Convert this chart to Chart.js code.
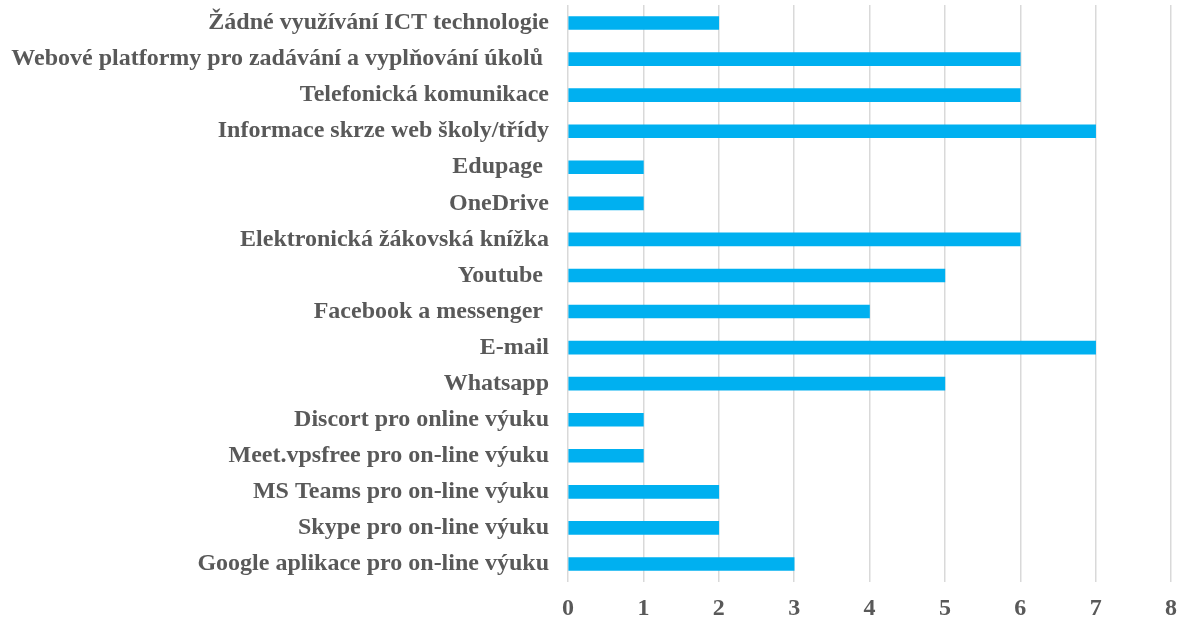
<!DOCTYPE html>
<html lang="cs">
<head>
<meta charset="UTF-8">
<title>ICT</title>
<style>
  html, body { margin: 0; padding: 0; background: #ffffff; }
  #wrap { width: 1182px; height: 620px; position: relative; }
</style>
<script src="https://cdn.jsdelivr.net/npm/chart.js"></script>
</head>
<body>
<div id="wrap"><canvas id="ictChart"></canvas></div>
<script>
// categories, top to bottom as in the picture
const categories = [
  'Žádné využívání ICT technologie',
  'Webové platformy pro zadávání a vyplňování úkolů ',
  'Telefonická komunikace',
  'Informace skrze web školy/třídy',
  'Edupage ',
  'OneDrive',
  'Elektronická žákovská knížka',
  'Youtube ',
  'Facebook a messenger ',
  'E-mail',
  'Whatsapp',
  'Discort pro online výuku',
  'Meet.vpsfree pro on-line výuku',
  'MS Teams pro on-line výuku',
  'Skype pro on-line výuku',
  'Google aplikace pro on-line výuku'
];
const counts = [2, 6, 6, 7, 1, 1, 6, 5, 4, 7, 5, 1, 1, 2, 2, 3];
const xMin = 0;
const xMax = 8;

const textGrey = '#595959';
const fontFam = '"Liberation Serif", "Times New Roman", serif';

new Chart(document.getElementById('ictChart'), {
    type: 'bar',
    data: {
        labels: categories,
        datasets: [{
            data: counts,
            backgroundColor: '#00B0F0',
            borderWidth: 0,
            barThickness: 13
        }]
    },
    options: {
        indexAxis: 'y',
        responsive: true,
        maintainAspectRatio: false,
        animation: false,
        layout: { padding: { top: 5, right: 11, bottom: 0, left: 0 } },
        plugins: {
            legend: { display: false },
            tooltip: { enabled: false }
        },
        scales: {
            x: {
                min: xMin,
                max: xMax,
                ticks: {
                    stepSize: 1,
                    color: textGrey,
                    padding: 12,
                    font: { family: fontFam, size: 24, weight: 'bold' }
                },
                grid: { color: '#d9d9d9', lineWidth: 1.5, drawTicks: false },
                border: { display: false },
                afterFit: s => { s.height = 38; s.paddingLeft = 0; s.paddingRight = 0; }
            },
            y: {
                ticks: {
                    color: textGrey,
                    padding: 19,
                    autoSkip: false,
                    font: { family: fontFam, size: 24, weight: 'bold' }
                },
                grid: { display: false, drawTicks: false },
                border: { display: false },
                afterFit: s => { s.width = 568; s.paddingTop = 0; s.paddingBottom = 0; }
            }
        }
    }
});
</script>
</body>
</html>
